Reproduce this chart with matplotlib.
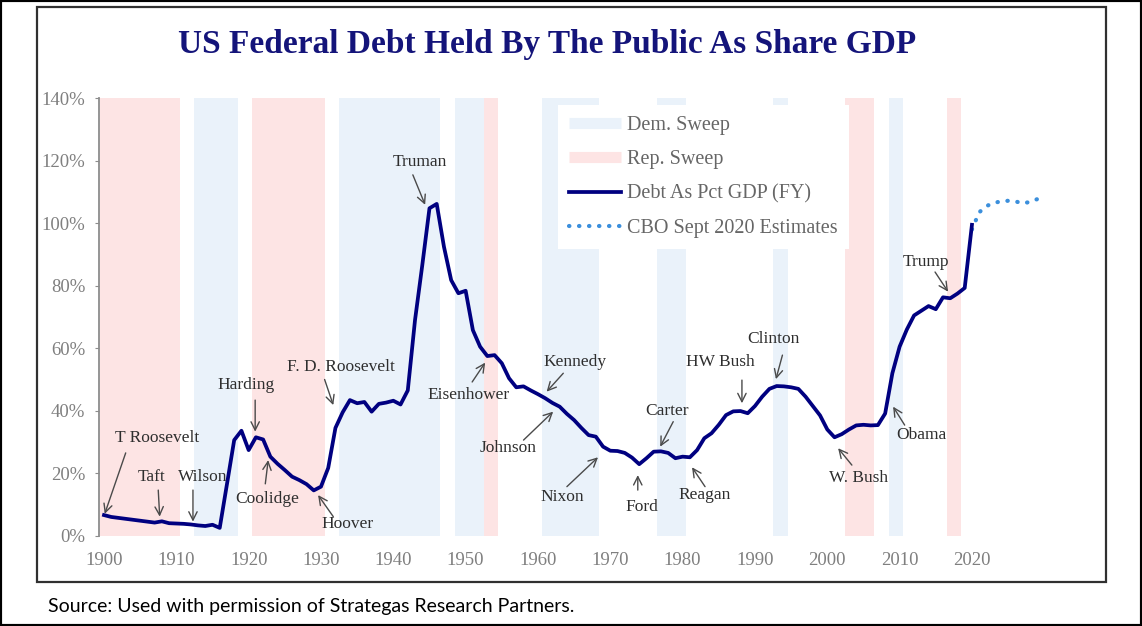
import numpy as np
import matplotlib
matplotlib.use('Agg')
import matplotlib.pyplot as plt
from matplotlib.lines import Line2D
from matplotlib.patches import Rectangle

# Debt held by the public, % of GDP (fiscal years)
years = list(range(1900, 2021))
debt_pct = [
    6.6, 6.0, 5.7, 5.4, 5.1, 4.8, 4.5, 4.2, 4.6, 4.0,          # 1900s
    3.9, 3.8, 3.6, 3.3, 3.1, 3.5, 2.5, 16.5, 30.6, 33.6,       # 1910s
    27.4, 31.5, 30.8, 25.3, 23.0, 21.0, 18.9, 17.8, 16.5, 14.5,  # 1920s
    15.7, 21.7, 34.5, 39.5, 43.4, 42.4, 42.8, 39.7, 42.2, 42.6,  # 1930s
    43.2, 42.0, 46.5, 69.0, 86.5, 104.8, 106.2, 92.5, 81.8, 77.6,  # 1940s
    78.4, 65.8, 60.5, 57.5, 57.8, 55.2, 50.4, 47.5, 47.8, 46.5,  # 1950s
    45.3, 44.0, 42.5, 41.3, 39.0, 37.0, 34.5, 32.2, 31.7, 28.5,  # 1960s
    27.2, 27.1, 26.5, 25.0, 22.9, 24.8, 26.9, 27.0, 26.5, 24.8,  # 1970s
    25.3, 25.1, 27.4, 31.2, 32.8, 35.5, 38.6, 39.8, 39.9, 39.2,  # 1980s
    41.5, 44.5, 47.0, 47.9, 47.8, 47.5, 47.0, 44.5, 41.5, 38.5,  # 1990s
    34.0, 31.5, 32.5, 34.0, 35.3, 35.5, 35.3, 35.4, 39.1, 52.0,  # 2000s
    60.5, 66.0, 70.5, 72.0, 73.5, 72.5, 76.3, 76.0, 77.5, 79.3,  # 2010s
    99.5,
]

# CBO September 2020 projections
cbo_years = list(range(2020, 2031))
cbo_pct = [98.0, 103.5, 105.5, 106.5, 107.0, 107.2, 107.0, 106.4, 106.8, 107.7, 109.0]

# single-party control periods (first year, last year)
dem_sweeps = [(1913, 1918), (1933, 1946), (1949, 1952), (1961, 1968),
              (1977, 1980), (1993, 1994), (2009, 2010)]
rep_sweeps = [(1900, 1910), (1921, 1930), (1953, 1954), (2003, 2006), (2017, 2018)]

# president labels: (label, text x, text y, arrow tail x, tail y, arrow head x, head y)
labels = [
    ('T Roosevelt', 1907.3, 31.2, 1903.0, 26.5, 1900.1, 7.0),
    ('Taft', 1906.6, 18.9, 1907.5, 14.6, 1907.7, 6.1),
    ('Wilson', 1913.7, 18.9, 1912.3, 14.6, 1912.3, 4.5),
    ('Harding', 1919.7, 48.2, 1920.9, 43.4, 1920.9, 33.3),
    ('Coolidge', 1922.5, 11.7, 1922.3, 16.6, 1922.7, 24.2),
    ('Hoover', 1933.6, 3.7, 1931.7, 6.1, 1929.6, 13.0),
    ('F. D. Roosevelt', 1932.8, 53.9, 1930.5, 50.0, 1931.7, 41.8),
    ('Truman', 1943.7, 119.7, 1942.7, 115.5, 1944.4, 105.9),
    ('Eisenhower', 1950.4, 45.0, 1950.9, 49.2, 1952.7, 55.4),
    ('Kennedy', 1965.1, 55.6, 1963.5, 52.0, 1961.2, 46.1),
    ('Johnson', 1955.9, 28.0, 1958.0, 30.6, 1962.1, 39.7),
    ('Nixon', 1963.4, 12.3, 1964.0, 15.7, 1968.3, 25.1),
    ('Ford', 1974.3, 9.3, 1973.8, 14.6, 1973.8, 19.4),
    ('Carter', 1977.8, 40.0, 1978.7, 36.5, 1976.9, 28.5),
    ('Reagan', 1983.1, 13.0, 1983.1, 15.7, 1981.3, 21.9),
    ('HW Bush', 1985.2, 55.6, 1988.2, 49.8, 1988.2, 42.4),
    ('Clinton', 1992.6, 62.9, 1993.8, 57.8, 1992.9, 50.1),
    ('W. Bush', 2004.3, 18.4, 2003.4, 22.6, 2001.5, 28.0),
    ('Obama', 2013.0, 32.2, 2010.7, 35.4, 2009.1, 41.3),
    ('Trump', 2013.7, 87.7, 2014.9, 84.4, 2016.7, 78.1),
]

x_ticks = list(range(1900, 2030, 10))
y_ticks = [0, 20, 40, 60, 80, 100, 120, 140]

DEM = '#eaf2fa'
REP = '#fde4e4'
NAVY = '#000080'
CBO = '#3b8fdc'
SERIF = 'Liberation Serif'

W, H = 1142, 626
fig = plt.figure(figsize=(W / 100, H / 100), dpi=100)
ax = fig.add_axes([99.3 / W, 90.3 / H, 952.2 / W, 437.4 / H])

for a, b in dem_sweeps:
    ax.axvspan(a - 0.5, b + 0.5, color=DEM, lw=0, zorder=0)
for a, b in rep_sweeps:
    ax.axvspan(a - 0.5, b + 0.5, color=REP, lw=0, zorder=0)

ax.plot(cbo_years, cbo_pct, color=CBO, lw=3.0, linestyle=(0, (0.1, 2.3)),
        dash_capstyle='round', zorder=2)
ax.plot(years, debt_pct, color=NAVY, lw=2.7, solid_joinstyle='round', zorder=3)

for name, tx, ty, ax0, ay0, hx, hy in labels:
    ax.annotate('', xy=(hx, hy), xytext=(ax0, ay0),
                arrowprops=dict(arrowstyle='->', color='#4a4a4a', lw=1.0,
                                shrinkA=0, shrinkB=0, mutation_scale=15))
    ax.text(tx, ty, name, ha='center', va='center', fontsize=12.5,
            family=SERIF, color='#2e2e2e')

ax.set_xlim(1899.35, 2031)
ax.set_ylim(0, 140)
ax.set_xticks(x_ticks)
ax.set_yticks(y_ticks)
ax.set_yticklabels([f'{v}%' for v in y_ticks])
for s in ['top', 'right', 'bottom']:
    ax.spines[s].set_visible(False)
ax.spines['left'].set_color('#8c8c8c')
ax.spines['left'].set_linewidth(1.3)
ax.tick_params(axis='y', length=3, color='#8c8c8c', pad=7, labelsize=13.5,
               labelcolor='#7f7f7f')
ax.tick_params(axis='x', length=0, pad=12, labelsize=13.5, labelcolor='#7f7f7f')
for t in ax.get_xticklabels() + ax.get_yticklabels():
    t.set_family(SERIF)

handles = [
    Line2D([], [], color=DEM, lw=8, solid_capstyle='butt'),
    Line2D([], [], color=REP, lw=8, solid_capstyle='butt'),
    Line2D([], [], color=NAVY, lw=2.7),
    Line2D([], [], color=CBO, lw=3.0, linestyle=(0, (0.1, 2.3)), dash_capstyle='round'),
]
names = ['Dem. Sweep', 'Rep. Sweep', 'Debt As Pct GDP (FY)', 'CBO Sept 2020 Estimates']
leg = ax.legend(handles, names, loc='upper left', bbox_to_anchor=(558 / W, 1 - 105 / H),
                bbox_transform=fig.transFigure, borderaxespad=0, frameon=True,
                facecolor='white', edgecolor='none', framealpha=1, fancybox=False,
                handlelength=2.6, handletextpad=0.3, labelspacing=0.75,
                borderpad=0.55, prop={'family': SERIF, 'size': 14.5})
for t in leg.get_texts():
    t.set_color('#666666')

fig.text(547.5 / W, 1 - 45 / H, 'US Federal Debt Held By The Public As Share GDP',
         ha='center', va='center', fontsize=24, fontweight='bold',
         family=SERIF, color='#14147a')

fig.text(48 / W, 1 - 606.7 / H,
         'Source: Used with permission of Strategas Research Partners.',
         ha='left', va='center', fontsize=14, family='Lato', color='black')

# chart box and outer frame
fig.patches.append(Rectangle((37 / W, 1 - 582 / H), (1106 - 37) / W, (582 - 7) / H,
                             transform=fig.transFigure, fill=False,
                             edgecolor='#303030', lw=1.6))
fig.patches.append(Rectangle((0, 0), 1, 1, transform=fig.transFigure, fill=False,
                             edgecolor='black', lw=3))

fig.savefig('out.png', dpi=100)
